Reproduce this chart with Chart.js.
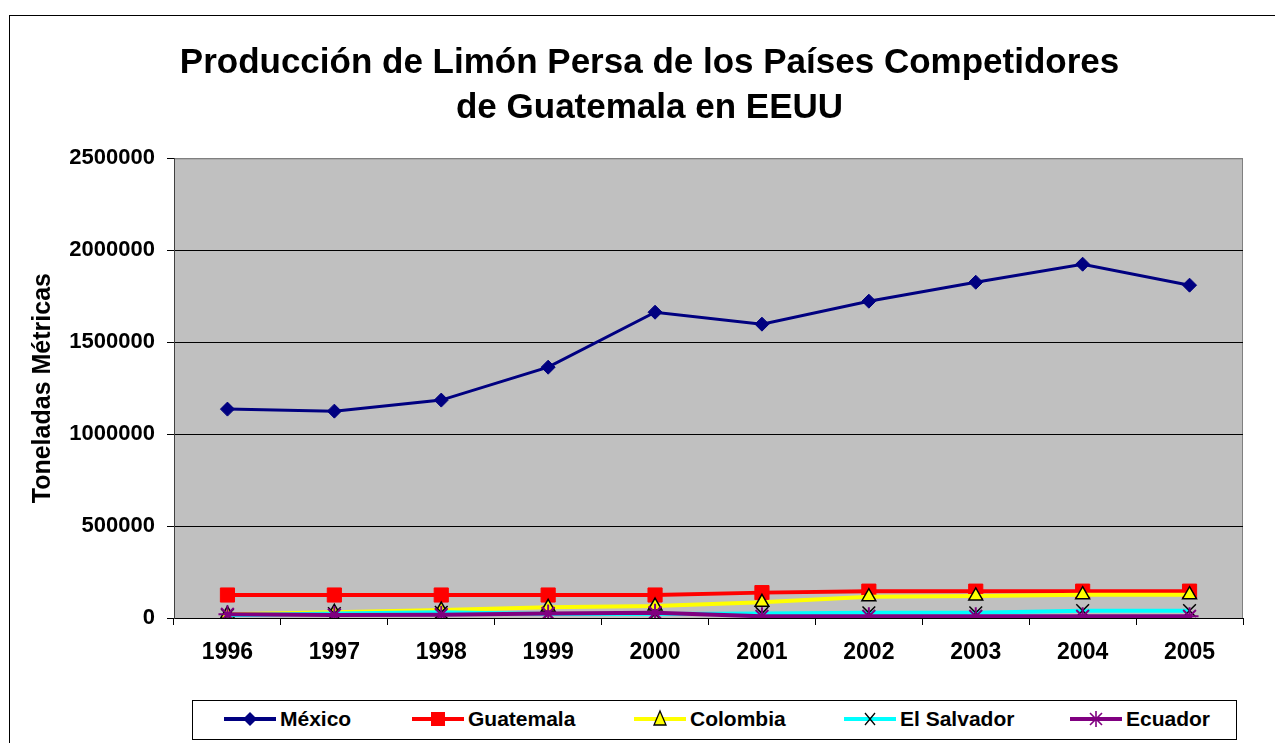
<!DOCTYPE html>
<html>
<head>
<meta charset="utf-8">
<script src="https://cdn.jsdelivr.net/npm/chart.js@4/dist/chart.umd.min.js"></script>
<style>
  html, body { margin: 0; padding: 0; background: #fff; overflow: hidden; }
  #wrap { position: relative; width: 1275px; height: 743px; }
  #legende {
    position: absolute; left: 192px; top: 700px; width: 1045px; height: 40px;
    border: 1px solid #000; background: #fff; box-sizing: border-box;
    font: bold 21px "Liberation Sans", Arial, sans-serif;
  }
  #legende .item { position: absolute; top: 0; height: 36px; display: flex; align-items: center; }
  #legende svg { margin-right: 4px; }
</style>
</head>
<body>
<div id="wrap">
  <canvas id="myChart" width="1275" height="743"></canvas>
  <div id="legende"></div>
</div>
<script>
// donnees du graphique
const annees = ["1996", "1997", "1998", "1999", "2000", "2001", "2002", "2003", "2004", "2005"];
const mexico = [1136000, 1125000, 1185000, 1364000, 1663000, 1598000, 1723000, 1826000, 1924000, 1810000];
const guatemala = [125000, 125000, 125000, 125000, 125000, 138000, 146000, 146000, 146000, 146000];
const colombia = [20000, 31000, 43000, 58000, 65000, 85000, 116000, 120000, 127000, 127000];
const elSalvador = [15000, 24000, 31000, 22000, 22000, 25000, 28000, 28000, 40000, 40000];
const ecuador = [20000, 16000, 18000, 25000, 29000, 9000, 9000, 9000, 9000, 9000];
const yTicks = [0, 500000, 1000000, 1500000, 2000000, 2500000];

const police = "'Liberation Sans', Arial, sans-serif";

// fond gris + cadre exterieur
const fondPlugin = {
  id: "fond",
  beforeDraw(chart) {
    const ctx = chart.ctx;
    const a = chart.chartArea;
    ctx.save();
    ctx.fillStyle = "#fff";
    ctx.fillRect(0, 0, chart.width, chart.height);
    ctx.strokeStyle = "#000";
    ctx.lineWidth = 1;
    ctx.strokeRect(9.5, 15.5, 1400, 900);
    ctx.fillStyle = "#C0C0C0";
    ctx.fillRect(a.left, a.top, a.right - a.left, a.bottom - a.top);
    ctx.strokeStyle = "#808080";
    ctx.beginPath();
    ctx.moveTo(a.left, a.top + 0.5);
    ctx.lineTo(a.right - 0.5, a.top + 0.5);
    ctx.lineTo(a.right - 0.5, a.bottom);
    ctx.stroke();
    ctx.restore();
  },
};

const series = [
  { label: "México", data: mexico, color: "#000080", style: "rectRot", radius: 7, bg: "#000080", border: "#000080", bw: 1, lw: 3 },
  { label: "Guatemala", data: guatemala, color: "#FF0000", style: "rect", radius: 10, bg: "#FF0000", border: "#FF0000", bw: 1, lw: 4 },
  { label: "Colombia", data: colombia, color: "#FFFF00", style: "triangle", radius: 8, bg: "#FFFF00", border: "#000", bw: 1.5, lw: 4 },
  { label: "El Salvador", data: elSalvador, color: "#00FFFF", style: "crossRot", radius: 9, bg: "#000", border: "#000", bw: 1.5, lw: 4 },
  { label: "Ecuador", data: ecuador, color: "#800080", style: "star", radius: 9, bg: "#800080", border: "#800080", bw: 2, lw: 4 },
];

const data = {
  labels: annees,
  datasets: series.map((s, i) => ({
    label: s.label,
    data: s.data,
    borderColor: s.color,
    backgroundColor: s.color,
    borderWidth: s.lw,
    pointStyle: s.style,
    pointRadius: s.radius,
    pointBackgroundColor: s.bg,
    pointBorderColor: s.border,
    pointBorderWidth: s.bw,
    tension: 0,
    order: series.length - i,
  })),
};

const config = {
  type: "line",
  data: data,
  options: {
    responsive: false,
    animation: false,
    devicePixelRatio: 1,
    layout: { padding: { left: 24, right: 0, top: 0, bottom: 0 } },
    plugins: {
      legend: { display: false },
      tooltip: { enabled: false },
      title: {
        display: true,
        text: ["Producción de Limón Persa de los Países Competidores", "de Guatemala en EEUU"],
        color: "#000",
        font: { family: police, size: 35, weight: "bold", lineHeight: 1.29 },
        padding: { top: 41, bottom: 27 },
      },
    },
    scales: {
      x: {
        offset: true,
        grid: { offset: true, drawOnChartArea: false, color: "#000", tickLength: 7 },
        border: { color: "#000" },
        ticks: { color: "#000", padding: 14, maxRotation: 0, font: { family: police, size: 23, weight: "bold" } },
        afterFit: (s) => { s.height = 125; },
      },
      y: {
        min: 0,
        max: 2500000,
        afterBuildTicks: (s) => { s.ticks = yTicks.map((v) => ({ value: v })); },
        grid: {
          color: (c) => (c.tick && c.tick.value === 2500000 ? "#808080" : "#000"),
          tickColor: "#000",
          tickLength: 7,
        },
        border: { color: "#404040" },
        ticks: {
          color: "#000",
          padding: 12,
          font: { family: police, size: 22, weight: "bold" },
          callback: (v) => String(v),
        },
        title: {
          display: true,
          text: "Toneladas Métricas",
          color: "#000",
          font: { family: police, size: 25, weight: "bold" },
          padding: { top: 4, bottom: 4 },
        },
        afterFit: (s) => { s.width = 150; },
      },
      droite: {
        type: "linear",
        position: "right",
        display: true,
        grid: { display: false },
        border: { display: false },
        ticks: { display: false },
        afterFit: (s) => { s.width = 32; },
      },
    },
  },
  plugins: [fondPlugin],
};

let context = document.getElementById("myChart").getContext("2d");
let chart = new Chart(context, config);

// legende html avec trait + marqueur
const marqueurs = {
  rectRot: (c) => `<polygon points="26,3 33,10 26,17 19,10" fill="${c}"/>`,
  rect: (c) => `<rect x="19" y="3" width="14" height="14" fill="${c}"/>`,
  triangle: () => `<polygon points="26,2 32,16 20,16" fill="#FFFF00" stroke="#000" stroke-width="1.3"/>`,
  crossRot: () => `<path d="M21,4 L31,16 M31,4 L21,16" stroke="#000" stroke-width="1.3"/>`,
  star: (c) => `<path d="M26,2 L26,18 M20,4 L32,16 M32,4 L20,16" stroke="${c}" stroke-width="1.6"/>`,
};
const posTrait = [224, 412, 634, 844, 1070];
let legende = document.getElementById("legende");
series.forEach((s, i) => {
  let div = document.createElement("div");
  div.className = "item";
  div.style.left = (posTrait[i] - 193) + "px";
  div.innerHTML =
    `<svg width="52" height="20"><line x1="0" y1="10" x2="52" y2="10" stroke="${s.color}" stroke-width="4"/>` +
    marqueurs[s.style](s.color) + `</svg><span>${s.label}</span>`;
  legende.appendChild(div);
});
</script>
</body>
</html>
